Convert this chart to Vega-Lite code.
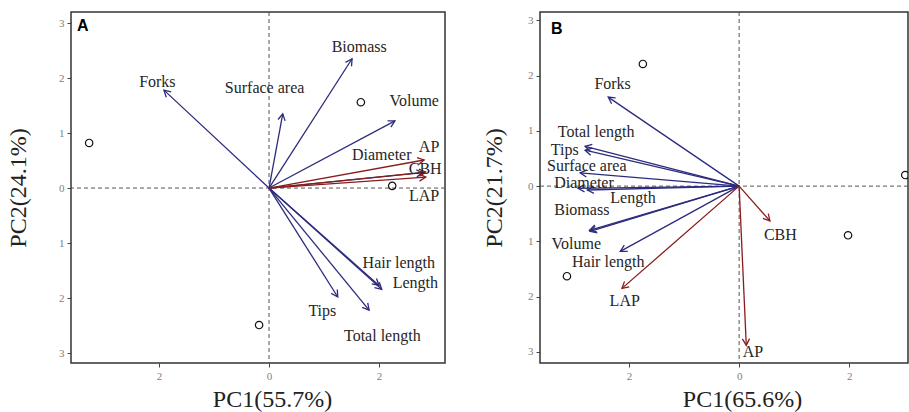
{
  "$schema": "https://vega.github.io/schema/vega-lite/v6.json",
  "padding": {"left": 5, "top": 10, "right": 0, "bottom": 0},
  "config": {
    "view": {"stroke": "#333333", "strokeWidth": 1.5},
    "axis": {"labelFont": "Liberation Serif", "labelFontSize": 11, "labelColor": "#808080", "tickColor": "#444444", "tickSize": 4, "labelPadding": 3, "domain": false, "grid": false, "titleFont": "Liberation Serif", "titleFontSize": 24, "titleFontWeight": "normal", "titleColor": "#222222"},
    "title": {"font": "Liberation Sans", "fontSize": 16, "fontWeight": "bold", "color": "#000000", "anchor": "start", "frame": "group"},
    "concat": {"spacing": 34}
  },
  "datasets": {
    "arrowsA": [
      {"var": "Forks", "group": "root", "x": -1.91, "y": 1.78, "lx": -2.03, "ly": 1.93},
      {"var": "Surface area", "group": "root", "x": 0.25, "y": 1.35, "lx": -0.08, "ly": 1.82},
      {"var": "Biomass", "group": "root", "x": 1.51, "y": 2.35, "lx": 1.64, "ly": 2.57},
      {"var": "Volume", "group": "root", "x": 2.29, "y": 1.22, "lx": 2.64, "ly": 1.58},
      {"var": "Diameter", "group": "root", "x": 2.8, "y": 0.28, "lx": 2.05, "ly": 0.6},
      {"var": "Hair length", "group": "root", "x": 2.0, "y": -1.77, "lx": 2.36, "ly": -1.36},
      {"var": "Length", "group": "root", "x": 2.05, "y": -1.84, "lx": 2.66, "ly": -1.73},
      {"var": "Tips", "group": "root", "x": 1.25, "y": -1.98, "lx": 0.97, "ly": -2.24},
      {"var": "Total length", "group": "root", "x": 1.82, "y": -2.22, "lx": 2.06, "ly": -2.69},
      {"var": "AP", "group": "enzyme", "x": 2.82, "y": 0.51, "lx": 2.91, "ly": 0.75},
      {"var": "CBH", "group": "enzyme", "x": 2.85, "y": 0.29, "lx": 2.84, "ly": 0.35},
      {"var": "LAP", "group": "enzyme", "x": 2.85, "y": 0.2, "lx": 2.82, "ly": -0.15}
    ],
    "pointsA": [
      {"x": 1.67, "y": 1.56},
      {"x": -3.27, "y": 0.82},
      {"x": 2.24, "y": 0.04},
      {"x": -0.18, "y": -2.49}
    ],
    "arrowsB": [
      {"var": "Forks", "group": "root", "x": -2.38, "y": 1.61, "lx": -2.3, "ly": 1.84},
      {"var": "Total length", "group": "root", "x": -2.8, "y": 0.72, "lx": -2.6, "ly": 0.98},
      {"var": "Tips", "group": "root", "x": -2.8, "y": 0.65, "lx": -3.17, "ly": 0.66},
      {"var": "Surface area", "group": "root", "x": -2.89, "y": 0.24, "lx": -2.77, "ly": 0.37},
      {"var": "Diameter", "group": "root", "x": -2.93, "y": -0.04, "lx": -2.82, "ly": 0.05},
      {"var": "Length", "group": "root", "x": -2.76, "y": -0.07, "lx": -1.93, "ly": -0.21},
      {"var": "Biomass", "group": "root", "x": -2.72, "y": -0.8, "lx": -2.86, "ly": -0.43},
      {"var": "Volume", "group": "root", "x": -2.71, "y": -0.82, "lx": -2.96, "ly": -1.04},
      {"var": "Hair length", "group": "root", "x": -2.16, "y": -1.18, "lx": -2.38, "ly": -1.38},
      {"var": "LAP", "group": "enzyme", "x": -2.13, "y": -1.85, "lx": -2.08, "ly": -2.07},
      {"var": "AP", "group": "enzyme", "x": 0.13, "y": -2.88, "lx": 0.25, "ly": -3.0},
      {"var": "CBH", "group": "enzyme", "x": 0.56, "y": -0.63, "lx": 0.75, "ly": -0.89}
    ],
    "pointsB": [
      {"x": -1.75, "y": 2.21},
      {"x": 3.02, "y": 0.2},
      {"x": 1.98, "y": -0.89},
      {"x": -3.13, "y": -1.63}
    ]
  },
  "hconcat": [
    {
      "width": 374,
      "height": 351,
      "title": {"text": "A", "offset": -22, "dx": 6},
      "layer": [
        {
          "data": {"values": [{}]},
          "mark": {"type": "rule", "strokeDash": [4, 3], "color": "#555555", "strokeWidth": 1},
          "encoding": {"x": {"datum": 0, "type": "quantitative", "scale": {"domain": [-3.6, 3.2], "nice": false, "zero": false}, "title": "PC1(55.7%)"}}
        },
        {
          "data": {"values": [{}]},
          "mark": {"type": "rule", "strokeDash": [4, 3], "color": "#555555", "strokeWidth": 1},
          "encoding": {"y": {"datum": 0, "type": "quantitative", "scale": {"domain": [-3.18, 3.2], "nice": false, "zero": false}, "title": "PC2(24.1%)"}}
        },
        {
          "data": {"name": "arrowsA"},
          "mark": {"type": "rule", "strokeWidth": 1.3, "clip": true},
          "encoding": {
            "x": {"field": "x", "type": "quantitative", "scale": {"domain": [-3.6, 3.2], "nice": false, "zero": false}, "title": "PC1(55.7%)", "axis": {"values": [-2, 0, 2], "labelExpr": "format(abs(datum.value),'d')", "titleX": 201, "titlePadding": 6}},
            "y": {"field": "y", "type": "quantitative", "scale": {"domain": [-3.18, 3.2], "nice": false, "zero": false}, "title": "PC2(24.1%)", "axis": {"values": [-3, -2, -1, 0, 1, 2, 3], "labelExpr": "format(abs(datum.value),'d')", "titlePadding": 28}},
            "x2": {"datum": 0},
            "y2": {"datum": 0},
            "color": {"field": "group", "type": "nominal", "scale": {"domain": ["root", "enzyme"], "range": ["#2c2c7e", "#8b1c1c"]}, "legend": null}
          }
        },
        {
          "data": {"name": "arrowsA"},
          "transform": [{"calculate": "atan2(datum.x, datum.y) * 180 / PI", "as": "ang"}],
          "mark": {"type": "point", "shape": "M -0.55 1 L 0 0 L 0.55 1", "filled": false, "size": 170, "strokeWidth": 1.3, "opacity": 1, "clip": true},
          "encoding": {
            "x": {"field": "x", "type": "quantitative", "title": "PC1(55.7%)"},
            "y": {"field": "y", "type": "quantitative", "title": "PC2(24.1%)"},
            "angle": {"field": "ang", "type": "quantitative", "scale": null},
            "color": {"field": "group", "type": "nominal", "scale": {"domain": ["root", "enzyme"], "range": ["#2c2c7e", "#8b1c1c"]}, "legend": null}
          }
        },
        {
          "data": {"name": "pointsA"},
          "mark": {"type": "point", "shape": "circle", "filled": false, "size": 55, "strokeWidth": 1.2, "color": "#111111", "opacity": 1, "clip": true},
          "encoding": {
            "x": {"field": "x", "type": "quantitative", "title": "PC1(55.7%)"},
            "y": {"field": "y", "type": "quantitative", "title": "PC2(24.1%)"}
          }
        },
        {
          "data": {"name": "arrowsA"},
          "mark": {"type": "text", "font": "Liberation Serif", "fontSize": 16, "color": "#262626", "baseline": "middle", "align": "center", "clip": true},
          "encoding": {
            "x": {"field": "lx", "type": "quantitative", "title": "PC1(55.7%)"},
            "y": {"field": "ly", "type": "quantitative", "title": "PC2(24.1%)"},
            "text": {"field": "var"}
          }
        }
      ]
    },
    {
      "width": 368,
      "height": 351,
      "title": {"text": "B", "offset": -25, "dx": 11},
      "layer": [
        {
          "data": {"values": [{}]},
          "mark": {"type": "rule", "strokeDash": [4, 3], "color": "#555555", "strokeWidth": 1},
          "encoding": {"x": {"datum": 0, "type": "quantitative", "scale": {"domain": [-3.62, 3.07], "nice": false, "zero": false}, "title": "PC1(65.6%)"}}
        },
        {
          "data": {"values": [{}]},
          "mark": {"type": "rule", "strokeDash": [4, 3], "color": "#555555", "strokeWidth": 1},
          "encoding": {"y": {"datum": 0, "type": "quantitative", "scale": {"domain": [-3.2, 3.15], "nice": false, "zero": false}, "title": "PC2(21.7%)"}}
        },
        {
          "data": {"name": "arrowsB"},
          "mark": {"type": "rule", "strokeWidth": 1.3, "clip": true},
          "encoding": {
            "x": {"field": "x", "type": "quantitative", "scale": {"domain": [-3.62, 3.07], "nice": false, "zero": false}, "title": "PC1(65.6%)", "axis": {"values": [-2, 0, 2], "labelExpr": "format(abs(datum.value),'d')", "titleX": 202, "titlePadding": 6}},
            "y": {"field": "y", "type": "quantitative", "scale": {"domain": [-3.2, 3.15], "nice": false, "zero": false}, "title": "PC2(21.7%)", "axis": {"values": [-3, -2, -1, 0, 1, 2, 3], "labelExpr": "format(abs(datum.value),'d')", "titlePadding": 21}},
            "x2": {"datum": 0},
            "y2": {"datum": 0},
            "color": {"field": "group", "type": "nominal", "scale": {"domain": ["root", "enzyme"], "range": ["#2c2c7e", "#8b1c1c"]}, "legend": null}
          }
        },
        {
          "data": {"name": "arrowsB"},
          "transform": [{"calculate": "atan2(datum.x, datum.y) * 180 / PI", "as": "ang"}],
          "mark": {"type": "point", "shape": "M -0.55 1 L 0 0 L 0.55 1", "filled": false, "size": 170, "strokeWidth": 1.3, "opacity": 1, "clip": true},
          "encoding": {
            "x": {"field": "x", "type": "quantitative", "title": "PC1(65.6%)"},
            "y": {"field": "y", "type": "quantitative", "title": "PC2(21.7%)"},
            "angle": {"field": "ang", "type": "quantitative", "scale": null},
            "color": {"field": "group", "type": "nominal", "scale": {"domain": ["root", "enzyme"], "range": ["#2c2c7e", "#8b1c1c"]}, "legend": null}
          }
        },
        {
          "data": {"name": "pointsB"},
          "mark": {"type": "point", "shape": "circle", "filled": false, "size": 55, "strokeWidth": 1.2, "color": "#111111", "opacity": 1, "clip": true},
          "encoding": {
            "x": {"field": "x", "type": "quantitative", "title": "PC1(65.6%)"},
            "y": {"field": "y", "type": "quantitative", "title": "PC2(21.7%)"}
          }
        },
        {
          "data": {"name": "arrowsB"},
          "mark": {"type": "text", "font": "Liberation Serif", "fontSize": 16, "color": "#262626", "baseline": "middle", "align": "center", "clip": true},
          "encoding": {
            "x": {"field": "lx", "type": "quantitative", "title": "PC1(65.6%)"},
            "y": {"field": "ly", "type": "quantitative", "title": "PC2(21.7%)"},
            "text": {"field": "var"}
          }
        }
      ]
    }
  ]
}
